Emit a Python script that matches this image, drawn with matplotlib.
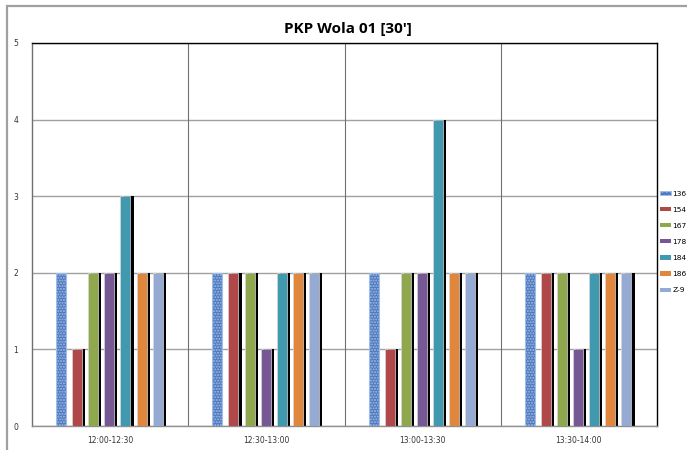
import matplotlib
matplotlib.use("Agg")
import matplotlib.pyplot as plt
import numpy as np
from matplotlib.patches import Rectangle, Patch

categories = ["12:00-12:30", "12:30-13:00", "13:00-13:30", "13:30-14:00"]
series_names = ["136", "154", "167", "178", "184", "186", "Z-9"]
v136 = [2, 2, 2, 2]
v154 = [1, 2, 1, 2]
v167 = [2, 2, 2, 2]
v178 = [2, 1, 2, 1]
v184 = [3, 2, 4, 2]
v186 = [2, 2, 2, 2]
vz9 = [2, 2, 2, 2]
series_values = [v136, v154, v167, v178, v184, v186, vz9]
colors = ["#4F77BA", "#B0484A", "#8FA84E", "#765894", "#4199AF", "#E0873D", "#95AAD3"]
title = "PKP Wola 01 [30']"

fig = plt.figure(figsize=(6.87, 4.5), dpi=100)
# outer chart border
fig.patches.append(Rectangle((7 / 687, -0.1), 1.2, 1 - 6 / 450 + 0.1, transform=fig.transFigure,
                             fill=False, edgecolor="#A0A0A0", linewidth=1.6, zorder=0))

ax = fig.add_axes([32 / 687, 1 - 426 / 450, (657 - 32) / 687, (426 - 43) / 450])
x = np.arange(len(categories))
step = 0.103
width = 0.064
shadow = 0.02
for i, (vals, col) in enumerate(zip(series_values, colors)):
    pos = x + (i - 3) * step - 0.005
    if i == 0:
        ax.bar(pos, vals, width=width, color=col, edgecolor="#9DBDEB", hatch="......",
               linewidth=0.8, zorder=3)
    else:
        ax.bar(pos + shadow, vals, width=width, color="black", linewidth=0, zorder=2)
        ax.bar(pos, vals, width=width, color=col, edgecolor="#D8D8D8", linewidth=0.5, zorder=3)

ax.set_xlim(-0.5, len(categories) - 0.5)
ax.set_ylim(0, 5)
ax.set_yticks(range(6))
ax.set_xticks(x)
ax.set_xticklabels(categories, fontsize=5.5)
ax.tick_params(axis="both", length=0, labelsize=5.5, colors="#333333")
ax.tick_params(axis="y", pad=10)
ax.tick_params(axis="x", pad=7)
ax.yaxis.grid(True, color="#A0A0A0", linewidth=1.0, zorder=1)
for b in [0.5, 1.5, 2.5]:
    ax.axvline(b, color="#707070", linewidth=0.8, zorder=1)
ax.set_axisbelow(True)
ax.spines["top"].set_color("black")
ax.spines["right"].set_color("black")
ax.spines["left"].set_color("#707070")
ax.spines["bottom"].set_color("#909090")
for s in ax.spines.values():
    s.set_linewidth(1.0)

fig.text(348 / 687, 1 - 29 / 450, title, ha="center", va="center", fontsize=11,
         fontweight="bold", family="Open Sans")

handles = []
for i, (name, col) in enumerate(zip(series_names, colors)):
    if i == 0:
        handles.append(Patch(facecolor=col, edgecolor="#9DBDEB", hatch="....", linewidth=0.6, label=name))
    else:
        handles.append(Patch(facecolor=col, edgecolor="none", label=name))
fig.legend(handles=handles, loc="center left", bbox_to_anchor=(660 / 687, 1 - 242 / 450),
           frameon=False, fontsize=5.4, handlelength=1.4, handleheight=0.5,
           labelspacing=1.35, handletextpad=0.25, borderaxespad=0, borderpad=0)

fig.savefig("out.png", dpi=100)
